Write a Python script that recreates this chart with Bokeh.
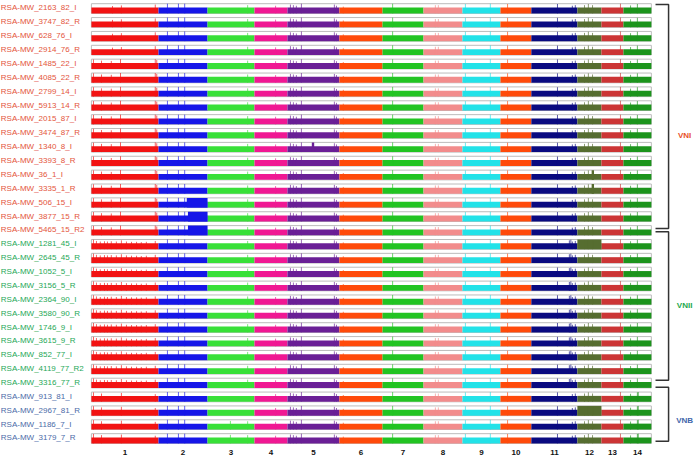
import numpy as np
from bokeh.plotting import figure
from bokeh.models import Range1d, ColumnDataSource
from bokeh.core.properties import value
from bokeh.embed import file_html
from bokeh.resources import INLINE

# ---------------- data ----------------
CHROMS = [str(i) for i in range(1, 15)]
CHROM_LEN_MB = [2.26, 1.65, 1.58, 1.11, 1.75, 1.45, 1.38, 1.31, 1.28, 1.04, 1.55, 0.81, 0.74, 0.94]
CHROM_COLORS = ["#f21313", "#1616e8", "#38e038", "#f01893", "#6a1f96", "#ff4a0a", "#22c422",
                "#f28c8c", "#22e2e8", "#ff4a0a", "#0a0a80", "#566d30", "#cc3535", "#1c941c"]

SAMPLES = [
    "RSA-MW_2163_82_I", "RSA-MW_3747_82_R", "RSA-MW_628_76_I", "RSA-MW_2914_76_R",
    "RSA-MW_1485_22_I", "RSA-MW_4085_22_R", "RSA-MW_2799_14_I", "RSA-MW_5913_14_R",
    "RSA-MW_2015_87_I", "RSA-MW_3474_87_R", "RSA-MW_1340_8_I", "RSA-MW_3393_8_R",
    "RSA-MW_36_1_I", "RSA-MW_3335_1_R", "RSA-MW_506_15_I", "RSA-MW_3877_15_R",
    "RSA-MW_5465_15_R2",
    "RSA-MW_1281_45_I", "RSA-MW_2645_45_R", "RSA-MW_1052_5_I", "RSA-MW_3156_5_R",
    "RSA-MW_2364_90_I", "RSA-MW_3580_90_R", "RSA-MW_1746_9_I", "RSA-MW_3615_9_R",
    "RSA-MW_852_77_I", "RSA-MW_4119_77_R2", "RSA-MW_3316_77_R",
    "RSA-MW_913_81_I", "RSA-MW_2967_81_R", "RSA-MW_1186_7_I", "RSA-MW_3179_7_R",
]
LINEAGE = ["VNI"] * 17 + ["VNII"] * 11 + ["VNB"] * 4
SPIKE_SET = ["VNI_A"] * 4 + ["VNI_B"] * 13 + ["VNII"] * 11 + ["VNB"] * 4

BASE_CN = 1.0

# spikes: (chromosome, position within chromosome in Mb, copy number)
COMMON_SPIKES = [
    (2, 0.30, 2.0), (2, 0.67, 1.8), (2, 0.88, 1.9), (3, 1.35, 1.4), (4, 0.71, 1.3),
    (5, 0.10, 1.5), (5, 0.20, 1.4), (5, 0.30, 1.3), (5, 0.47, 1.7), (5, 1.58, 1.5), (5, 1.65, 1.3),
    (6, 0.13, 1.15), (7, 0.34, 1.8), (8, 0.40, 1.4), (8, 0.50, 1.4), (9, 0.10, 1.6), (9, 0.94, 1.7),
    (10, 0.24, 1.6), (11, 0.88, 1.6), (11, 1.38, 1.3), (11, 1.48, 1.4),
    (12, 0.24, 1.4), (12, 0.37, 1.6), (12, 0.51, 1.4),
    (13, 0.64, 1.7), (14, 0.24, 1.35), (14, 0.47, 1.6),
]
LINEAGE_SPIKES = {
    "VNI_A": [(1, 0.71, 1.25), (1, 1.01, 1.35), (1, 2.15, 1.5)],
    "VNI_B": [(1, 0.07, 1.6), (1, 0.34, 1.4), (1, 0.67, 1.35), (1, 0.98, 1.7),
              (1, 2.15, 1.7), (1, 2.20, 1.5)],
    "VNII": [(1, 0.07, 1.6), (1, 0.17, 1.4), (1, 0.30, 1.3), (1, 0.44, 1.35), (1, 0.54, 1.3),
             (1, 0.67, 1.35), (1, 0.84, 1.3), (1, 1.01, 1.5), (1, 1.18, 1.3), (1, 1.35, 1.25),
             (1, 1.52, 1.25), (1, 1.68, 1.2), (1, 1.85, 1.25), (1, 2.15, 1.4),
             (11, 1.28, 1.5), (11, 1.33, 1.6)],
    "VNB": [(1, 0.07, 1.6), (1, 0.34, 1.4), (1, 1.01, 1.5), (1, 2.15, 1.3),
            (3, 0.77, 1.45), (14, 0.50, 1.8)],
}

# copy-number events: (row, chromosome, start Mb, end Mb, copy number)
CN_EVENTS = [
    (14, 2, 0.95, 1.65, 2.0), (15, 2, 0.99, 1.65, 2.0), (16, 2, 0.99, 1.65, 2.0),
    (17, 12, 0.0, 0.81, 2.0), (29, 12, 0.0, 0.81, 2.0),
    (10, 5, 0.82, 0.90, 2.0), (12, 12, 0.48, 0.56, 1.8), (13, 12, 0.48, 0.56, 1.7),
]

GROUPS = ["VNI", "VNII", "VNB"]
GROUP_SPAN = [(-0.3, 15.85), (16.1, 26.8), (27.3, 31.2)]
GROUP_LABEL_ROW = [9.15, 21.4, 29.7]
GROUP_TEXT_COLORS = {"VNI": "#e4553c", "VNII": "#25a857", "VNB": "#4b6ba8"}
GROUP_HEAD_COLORS = {"VNI": "#e8502a", "VNII": "#22a84e", "VNB": "#3f66aa"}

# ---------------- layout / styles ----------------
ROW_H = 0.70          # strip height in row units
CN_TOP = 1.65         # copy number at top of strip
FONT = "Liberation Sans"

starts = np.concatenate([[0.0], np.cumsum(CHROM_LEN_MB)[:-1]])
ends = starts + np.array(CHROM_LEN_MB)
G = float(ends[-1])
mids = (starts + ends) / 2


def frac(cn):
    return min(cn, CN_TOP) / CN_TOP


p = figure(width=696, height=458, x_range=Range1d(-3.06, 20.37),
           y_range=Range1d(32.44, -0.58), output_backend="svg",
           toolbar_location=None, min_border=0)
p.axis.visible = False
p.grid.visible = False
p.outline_line_color = None
p.background_fill_color = "white"
p.border_fill_color = "white"

n = len(SAMPLES)
rows = np.arange(n)

# strip boxes
p.quad(left=[0.0] * n, right=[G] * n, top=list(rows - ROW_H / 2), bottom=list(rows + ROW_H / 2),
       fill_color="white", line_color="#bcbcbc", line_width=1)

# base coverage
bl, br, bt, bb, bc = [], [], [], [], []
for r in range(n):
    for c in range(14):
        bottom = r + ROW_H / 2
        bl.append(starts[c]); br.append(ends[c])
        bb.append(bottom); bt.append(bottom - frac(BASE_CN) * ROW_H)
        bc.append(CHROM_COLORS[c])
p.quad(left=bl, right=br, top=bt, bottom=bb, fill_color=bc, line_color=None)

# copy-number events
el, er, et, eb, ec = [], [], [], [], []
for (r, c, s, e, cn) in CN_EVENTS:
    bottom = r + ROW_H / 2
    el.append(starts[c - 1] + s); er.append(starts[c - 1] + e)
    eb.append(bottom); et.append(bottom - frac(cn) * ROW_H)
    ec.append(CHROM_COLORS[c - 1])
p.quad(left=el, right=er, top=et, bottom=eb, fill_color=ec, line_color=None)

# spikes
sx, sy0, sy1, sc = [], [], [], []
for r in range(n):
    spikes = COMMON_SPIKES + LINEAGE_SPIKES[SPIKE_SET[r]]
    for (c, pos, cn) in spikes:
        if SPIKE_SET[r] == "VNB" and c == 3 and r < 30:
            continue
        bottom = r + ROW_H / 2
        x = starts[c - 1] + pos
        sx.append(x); sy0.append(bottom); sy1.append(bottom - frac(cn) * ROW_H)
        sc.append(CHROM_COLORS[c - 1])
p.segment(x0=sx, x1=sx, y0=sy0, y1=sy1, line_color=sc, line_width=0.9, line_alpha=0.75)

# sample labels
lab = ColumnDataSource(dict(x=[-3.05] * n, y=list(rows - 0.04), t=SAMPLES,
                            c=[GROUP_TEXT_COLORS[g] for g in LINEAGE]))
p.text(x="x", y="y", text="t", text_color="c", source=lab, text_font=value(FONT),
       text_font_size="8px", text_baseline="middle", text_align="left")

# chromosome labels
p.text(x=list(mids), y=[32.0] * 14, text=CHROMS, text_font=value(FONT), text_font_size="8px",
       text_font_style="bold", text_color="#111111", text_align="center", text_baseline="middle")

# brackets
bx = G + 0.58
tx0 = G + 0.14
for g, (y0, y1), ly in zip(GROUPS, GROUP_SPAN, GROUP_LABEL_ROW):
    p.line(x=[tx0, bx, bx, tx0], y=[y0, y0, y1, y1], line_color="#333333", line_width=1.5)
    p.text(x=[G + 1.12], y=[ly], text=[g], text_font=value(FONT), text_font_size="8px",
           text_font_style="bold", text_color=GROUP_HEAD_COLORS[g],
           text_align="center", text_baseline="middle")

open("out.html", "w").write(file_html(p, INLINE))
